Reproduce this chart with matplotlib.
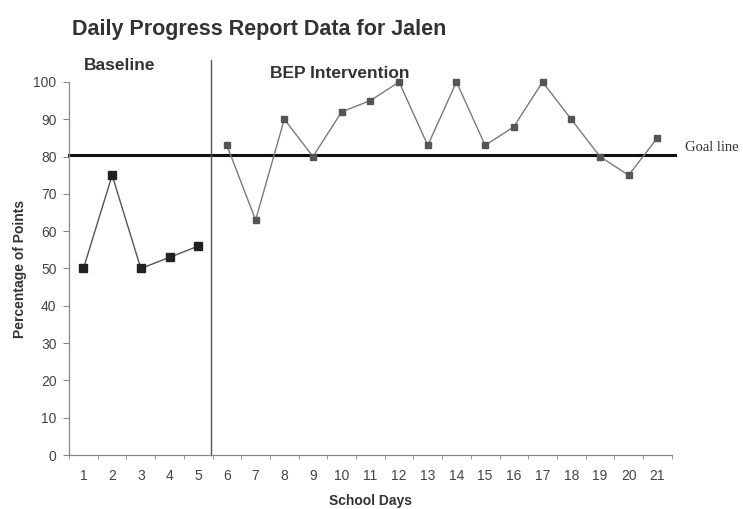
import matplotlib.pyplot as plt
import numpy as np

plt.rcParams['font.family'] = ['Liberation Sans', 'DejaVu Sans']

days = np.arange(1, 22)
baseline_days = [1, 2, 3, 4, 5]
baseline_pct = [50, 75, 50, 53, 56]
intervention_days = list(range(6, 22))
intervention_pct = [83, 63, 90, 80, 92, 95, 100, 83, 100, 83, 88, 100, 90, 80, 75, 85]
goal = 80.5
phase_change = 5.45

fig = plt.figure(figsize=(7.43, 5.09), dpi=100)
ax = fig.add_axes([0.093, 0.106, 0.811, 0.733])

ax.plot(baseline_days, baseline_pct, color='#555555', linewidth=1.0,
        marker='s', markersize=5.5, markerfacecolor='#222222',
        markeredgecolor='#222222', clip_on=False)
ax.plot(intervention_days, intervention_pct, color='#7a7a7a', linewidth=1.0,
        marker='s', markersize=4.5, markerfacecolor='#555555',
        markeredgecolor='#555555', zorder=3, clip_on=False)

# goal line runs a little past the right end of the axis
ax.plot([0.5, 21.6], [goal, goal], color='#111111', linewidth=2.2,
        clip_on=False, zorder=2)
ax.plot([phase_change, phase_change], [0, 106], color='#555555',
        linewidth=1.0, clip_on=False)

ax.set_xlim(0.5, 21.5)
ax.set_ylim(0, 100)
ax.set_yticks(np.arange(0, 101, 10))
ax.set_xticks(days)
ax.set_xticks(np.arange(0.5, 22, 1), minor=True)
ax.tick_params(axis='x', which='major', length=0, pad=10, labelsize=10,
               labelcolor='#444444')
ax.tick_params(axis='x', which='minor', length=3, color='#888888')
ax.tick_params(axis='y', length=4, color='#888888', labelsize=10, pad=5,
               labelcolor='#444444')

for side in ['top', 'right']:
    ax.spines[side].set_visible(False)
for side in ['left', 'bottom']:
    ax.spines[side].set_color('#888888')
    ax.spines[side].set_linewidth(0.9)

ax.set_xlabel('School Days', fontsize=10, fontweight='bold', color='#333333',
              labelpad=8)
ax.set_ylabel('Percentage of Points', fontsize=10, fontweight='bold',
              color='#333333', labelpad=5)

fig.text(0.097, 0.943, 'Daily Progress Report Data for Jalen', fontsize=15.5,
         fontweight='bold', color='#333333', va='center')
ax.text(1.0, 104.5, 'Baseline', fontsize=12.5, fontweight='bold',
        color='#333333', va='center')
ax.text(7.5, 102.3, 'BEP Intervention', fontsize=12.5, fontweight='bold',
        color='#333333', va='center')
ax.text(21.95, goal + 2, 'Goal line', fontsize=10.5, color='#333333',
        family=['Liberation Serif', 'DejaVu Serif'], va='center',
        clip_on=False)

fig.savefig('out.png', dpi=100)
